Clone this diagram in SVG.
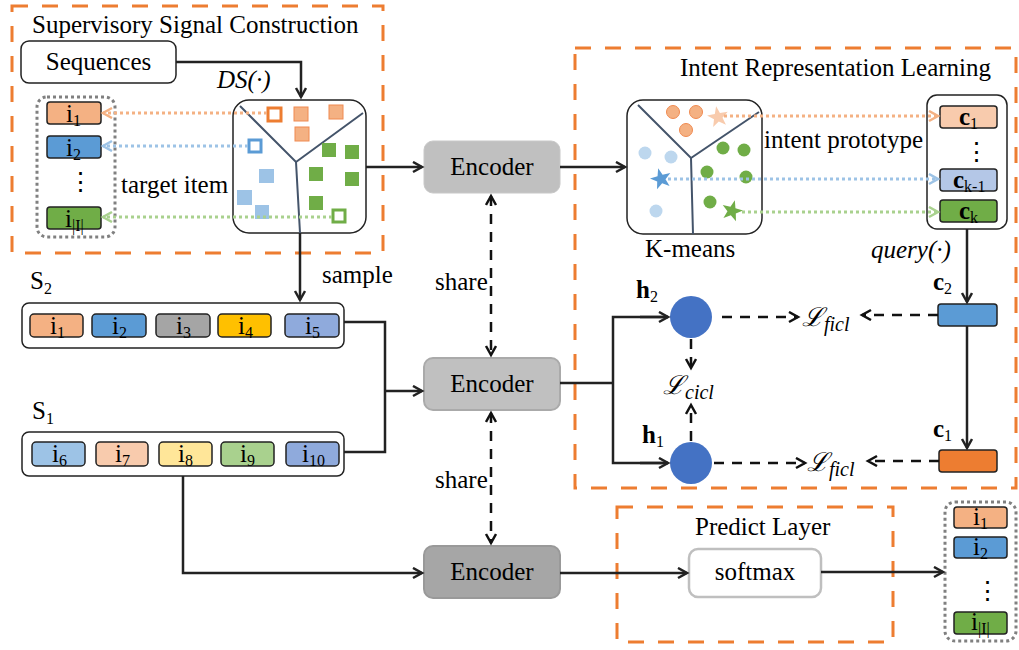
<svg xmlns="http://www.w3.org/2000/svg" width="1019" height="650" viewBox="0 0 1019 650" font-family="'Liberation Serif','DejaVu Serif','Noto Serif',serif">
<style>
text{font-family:"Liberation Serif","DejaVu Serif","Noto Serif",serif;font-size:25px;fill:#000}
.it{font-style:italic}
.b{font-weight:bold}
.sub{font-size:16px;font-weight:normal}
.dash{fill:none;stroke:#ED7D31;stroke-width:3;stroke-dasharray:16 14}
.dot{fill:none;stroke:#808080;stroke-width:3;stroke-dasharray:3 3}
.item{stroke:#222;stroke-width:1.5}
.ln{fill:none;stroke:#222;stroke-width:2.5}
.dl{fill:none;stroke:#111;stroke-width:2.5;stroke-dasharray:10 8}
.cl{fill:none;stroke:#44546A;stroke-width:2}
.L{font-family:"DejaVu Serif","Liberation Serif",serif;font-style:italic;font-size:26px}
.Ls{font-family:"Liberation Serif","DejaVu Serif",serif;font-style:italic;font-size:20px}
</style>
<defs>
<marker id="ah" markerUnits="userSpaceOnUse" markerWidth="14" markerHeight="14" refX="10" refY="6" orient="auto"><path d="M1,1 L10,6 L1,11" fill="none" stroke="#222" stroke-width="2.5"/></marker>
<marker id="ahs" markerUnits="userSpaceOnUse" markerWidth="14" markerHeight="14" refX="10" refY="6" orient="auto-start-reverse"><path d="M1,1 L10,6 L1,11" fill="none" stroke="#111" stroke-width="2.5"/></marker>
<marker id="aho" markerUnits="userSpaceOnUse" markerWidth="14" markerHeight="14" refX="10" refY="6" orient="auto"><path d="M1,1 L10,6 L1,11" fill="none" stroke="#F4B183" stroke-width="2.5"/></marker>
<marker id="ahb" markerUnits="userSpaceOnUse" markerWidth="14" markerHeight="14" refX="10" refY="6" orient="auto"><path d="M1,1 L10,6 L1,11" fill="none" stroke="#9DC3E6" stroke-width="2.5"/></marker>
<marker id="ahg" markerUnits="userSpaceOnUse" markerWidth="14" markerHeight="14" refX="10" refY="6" orient="auto"><path d="M1,1 L10,6 L1,11" fill="none" stroke="#A9D18E" stroke-width="2.5"/></marker>
<path id="star" d="M0,-11 L2.6,-3.6 L10.5,-3.4 L4.3,1.4 L6.5,8.9 L0,4.5 L-6.5,8.9 L-4.3,1.4 L-10.5,-3.4 L-2.6,-3.6 Z"/>
</defs>

<!-- Group frames -->
<g id="supervisory">
<rect x="12" y="6" width="371" height="247" class="dash"/>
<text x="32" y="33">Supervisory Signal Construction</text>
</g>
<g id="intent-box">
<rect x="575" y="48" width="441" height="440" class="dash"/>
<text x="680" y="76">Intent Representation Learning</text>
</g>
<g id="predict-box">
<rect x="617" y="507" width="276" height="135" class="dash"/>
<text x="695" y="535">Predict Layer</text>
</g>

<!-- Sequences -->
<g id="sequences">
<rect x="21" y="41" width="155" height="42" rx="8" fill="#fff" stroke="#222" stroke-width="1.5"/>
<text x="98.5" y="70" text-anchor="middle">Sequences</text>
</g>

<!-- target items -->
<g id="target-items">
<rect x="37" y="97" width="78" height="140" rx="10" class="dot"/>
<rect x="47" y="102" width="54" height="22" rx="3" fill="#F4B183" class="item"/>
<text x="66" y="122">i<tspan class="sub" dy="4">1</tspan></text>
<rect x="47" y="136" width="54" height="22" rx="3" fill="#5B9BD5" class="item"/>
<text x="66" y="156">i<tspan class="sub" dy="4">2</tspan></text>
<text x="68" y="190">⋮</text>
<rect x="47" y="207" width="54" height="22" rx="3" fill="#70AD47" class="item"/>
<text x="65" y="227">i<tspan class="sub" dy="4">|I|</tspan></text>
<text x="121" y="193">target item</text>
</g>

<!-- DS cluster -->
<g id="ds-cluster">
<rect x="233" y="100" width="133" height="133" rx="16" fill="#fff" stroke="#222" stroke-width="1.5"/>
<path d="M240,106 L296,162 L363,113 M296,162 L300,233" class="cl"/>
<rect x="268" y="108" width="13" height="13" fill="#fff" stroke="#ED7D31" stroke-width="3"/>
<rect x="294" y="107" width="14" height="14" fill="#F4B183" stroke="#F08A50" stroke-width="1"/>
<rect x="329" y="105" width="14" height="14" fill="#F4B183" stroke="#F08A50" stroke-width="1"/>
<rect x="295" y="127" width="14" height="14" fill="#F4B183" stroke="#F08A50" stroke-width="1"/>
<rect x="249" y="140" width="12" height="12" fill="#fff" stroke="#5B9BD5" stroke-width="3"/>
<rect x="259" y="169" width="15" height="14" fill="#9DC3E6"/>
<rect x="237" y="190" width="15" height="15" fill="#9DC3E6"/>
<rect x="255" y="205" width="14" height="14" fill="#9DC3E6"/>
<rect x="322" y="143" width="14" height="14" fill="#70AD47"/>
<rect x="345" y="145" width="14" height="14" fill="#70AD47"/>
<rect x="309" y="167" width="14" height="14" fill="#70AD47"/>
<rect x="345" y="172" width="14" height="14" fill="#70AD47"/>
<rect x="309" y="196" width="14" height="14" fill="#70AD47"/>
<rect x="333" y="210" width="12" height="12" fill="#fff" stroke="#70AD47" stroke-width="3"/>
</g>
<text x="217" y="88" class="it">DS(·)</text>
<text x="322" y="283">sample</text>

<!-- S2 -->
<g id="s2">
<text x="30" y="289">S<tspan class="sub" dy="5">2</tspan></text>
<rect x="22" y="303" width="322" height="45" rx="7" fill="#fff" stroke="#222" stroke-width="1.5"/>
<rect x="30" y="314" width="53" height="23" rx="4" fill="#F4B183" class="item"/>
<text x="50" y="334">i<tspan class="sub" dy="4">1</tspan></text>
<rect x="92" y="314" width="54" height="23" rx="4" fill="#5B9BD5" class="item"/>
<text x="112" y="334">i<tspan class="sub" dy="4">2</tspan></text>
<rect x="156" y="314" width="54" height="23" rx="4" fill="#A5A5A5" class="item"/>
<text x="176" y="334">i<tspan class="sub" dy="4">3</tspan></text>
<rect x="218" y="314" width="53" height="23" rx="4" fill="#FFC000" class="item"/>
<text x="238" y="334">i<tspan class="sub" dy="4">4</tspan></text>
<rect x="285" y="314" width="54" height="23" rx="4" fill="#8FAADC" class="item"/>
<text x="305" y="334">i<tspan class="sub" dy="4">5</tspan></text>
</g>

<!-- S1 -->
<g id="s1">
<text x="32" y="419">S<tspan class="sub" dy="5">1</tspan></text>
<rect x="22" y="432" width="322" height="44" rx="7" fill="#fff" stroke="#222" stroke-width="1.5"/>
<rect x="32" y="442" width="53" height="24" rx="4" fill="#9DC3E6" class="item"/>
<text x="52" y="462">i<tspan class="sub" dy="4">6</tspan></text>
<rect x="96" y="442" width="52" height="24" rx="4" fill="#F8CBAD" class="item"/>
<text x="115" y="462">i<tspan class="sub" dy="4">7</tspan></text>
<rect x="159" y="442" width="53" height="24" rx="4" fill="#FFE699" class="item"/>
<text x="178" y="462">i<tspan class="sub" dy="4">8</tspan></text>
<rect x="221" y="442" width="53" height="24" rx="4" fill="#A9D18E" class="item"/>
<text x="240" y="462">i<tspan class="sub" dy="4">9</tspan></text>
<rect x="286" y="442" width="53" height="24" rx="4" fill="#8FAADC" class="item"/>
<text x="302" y="462">i<tspan class="sub" dy="4">10</tspan></text>
</g>

<!-- Encoders -->
<g id="encoder1">
<rect x="424" y="141" width="136" height="52" rx="9" fill="#C0C0C0" stroke="#C8C8C8" stroke-width="1"/>
<text x="492" y="175" text-anchor="middle">Encoder</text>
</g>
<g id="encoder2">
<rect x="424" y="358" width="136" height="52" rx="9" fill="#C0C0C0" stroke="#AAAAAA" stroke-width="2"/>
<text x="492" y="392" text-anchor="middle">Encoder</text>
</g>
<g id="encoder3">
<rect x="424" y="546" width="136" height="52" rx="9" fill="#A6A6A6" stroke="#999999" stroke-width="2"/>
<text x="492" y="580" text-anchor="middle">Encoder</text>
</g>
<text x="435" y="290">share</text>
<text x="435" y="488">share</text>

<!-- K-means -->
<g id="kmeans">
<rect x="627" y="100" width="135" height="134" rx="16" fill="#fff" stroke="#222" stroke-width="1.5"/>
<path d="M638,105 L691,158 L759,112 M691,158 L693,234" class="cl"/>
<g fill="#F4B183" stroke="#F08A50" stroke-width="1">
<circle cx="673" cy="112" r="6.5"/><circle cx="696" cy="112" r="6.5"/><circle cx="686" cy="130" r="6.5"/>
</g>
<use href="#star" transform="translate(718,117) rotate(-10)" fill="#F8CBAD"/>
<g fill="#BDD7EE">
<circle cx="645" cy="153" r="6.5"/><circle cx="671" cy="157" r="6.5"/><circle cx="656" cy="211" r="6.5"/>
</g>
<use href="#star" transform="translate(661,179) rotate(-15)" fill="#5B9BD5"/>
<g fill="#70AD47">
<circle cx="723" cy="148" r="6.5"/><circle cx="744" cy="150" r="6.5"/><circle cx="707" cy="172" r="6.5"/><circle cx="746" cy="177" r="6.5"/><circle cx="710" cy="202" r="6.5"/>
</g>
<use href="#star" transform="translate(732,211) rotate(15)" fill="#70AD47"/>
<text x="645" y="257">K-means</text>
</g>
<text x="764" y="148">intent prototype</text>

<!-- prototypes -->
<g id="prototypes">
<rect x="927" y="95" width="80" height="134" rx="10" fill="#fff" stroke="#222" stroke-width="1.5"/>
<rect x="940" y="106" width="57" height="22" rx="3" fill="#F8CBAD" class="item"/>
<text x="959" y="125" class="b">c<tspan class="sub" dy="4">1</tspan></text>
<text x="964" y="160">⋮</text>
<rect x="940" y="169" width="57" height="22" rx="3" fill="#B4C7E7" class="item"/>
<text x="953" y="188" class="b">c<tspan class="sub" dy="4">k-1</tspan></text>
<rect x="940" y="200" width="57" height="22" rx="3" fill="#70AD47" class="item"/>
<text x="959" y="219" class="b">c<tspan class="sub" dy="4">k</tspan></text>
</g>
<text x="871" y="258" class="it">query(·)</text>

<!-- h nodes -->
<g id="h2">
<circle cx="691" cy="317" r="21" fill="#4472C4"/>
<text x="636" y="298" class="b">h<tspan class="sub" dy="4">2</tspan></text>
</g>
<g id="h1">
<circle cx="691" cy="463" r="21" fill="#4472C4"/>
<text x="642" y="443" class="b">h<tspan class="sub" dy="4">1</tspan></text>
</g>
<g id="c2">
<rect x="938" y="304" width="59" height="22" rx="3" fill="#5B9BD5" class="item"/>
<text x="933" y="290" class="b">c<tspan class="sub" dy="4">2</tspan></text>
</g>
<g id="c1">
<rect x="939" y="450" width="58" height="22" rx="3" fill="#ED7D31" class="item"/>
<text x="933" y="437" class="b">c<tspan class="sub" dy="4">1</tspan></text>
</g>

<!-- losses -->
<g id="loss-ficl-top"><text x="802" y="326" class="L">ℒ<tspan class="Ls" dy="5">ficl</tspan></text></g>
<g id="loss-cicl"><text x="663" y="394" class="L">ℒ<tspan class="Ls" dy="5">cicl</tspan></text></g>
<g id="loss-ficl-bot"><text x="807" y="471" class="L">ℒ<tspan class="Ls" dy="5">ficl</tspan></text></g>

<!-- softmax -->
<g id="softmax">
<rect x="689" y="549" width="132" height="48" rx="9" fill="#fff" stroke="#BFBFBF" stroke-width="2.5"/>
<text x="755" y="580" text-anchor="middle">softmax</text>
</g>

<!-- output items -->
<g id="output-items">
<rect x="945" y="502" width="71" height="139" rx="10" class="dot"/>
<rect x="954" y="507" width="53" height="21" rx="3" fill="#F4B183" class="item"/>
<text x="973" y="525">i<tspan class="sub" dy="4">1</tspan></text>
<rect x="954" y="537" width="53" height="21" rx="3" fill="#5B9BD5" class="item"/>
<text x="973" y="555">i<tspan class="sub" dy="4">2</tspan></text>
<text x="975" y="599">⋮</text>
<rect x="954" y="612" width="53" height="22" rx="3" fill="#70AD47" class="item"/>
<text x="971" y="630">i<tspan class="sub" dy="4">|I|</tspan></text>
</g>

<!-- connectors -->
<g id="connectors">
<path d="M176,62 H301 V97" class="ln" marker-end="url(#ah)"/>
<path d="M300,233 V300" class="ln" marker-end="url(#ah)"/>
<path d="M366,167 H422" class="ln" marker-end="url(#ah)"/>
<path d="M560,167 H625" class="ln" marker-end="url(#ah)"/>
<path d="M344,322 H385 V452 H344" class="ln"/>
<path d="M385,391 H422" class="ln" marker-end="url(#ah)"/>
<path d="M183,476 V573 H422" class="ln" marker-end="url(#ah)"/>
<path d="M560,573 H687" class="ln" marker-end="url(#ah)"/>
<path d="M821,572 H943" class="ln" marker-end="url(#ah)"/>
<path d="M560,383 H613 V463 H668 M613,383 V317 H668" class="ln"/>
<path d="M640,317 H668" class="ln" marker-end="url(#ah)"/>
<path d="M640,463 H668" class="ln" marker-end="url(#ah)"/>
<path d="M967,229 V302" class="ln" marker-end="url(#ah)"/>
<path d="M967,326 V448" class="ln" marker-end="url(#ah)"/>
<path d="M491,196 V355" class="dl" marker-start="url(#ahs)" marker-end="url(#ahs)"/>
<path d="M491,413 V543" class="dl" marker-start="url(#ahs)" marker-end="url(#ahs)"/>
<path d="M722,317 H798" class="dl" marker-end="url(#ahs)"/>
<path d="M938,315 H862" class="dl" marker-end="url(#ahs)"/>
<path d="M714,463 H805" class="dl" marker-end="url(#ahs)"/>
<path d="M939,461 H868" class="dl" marker-end="url(#ahs)"/>
<path d="M691,339 V368" class="dl" marker-end="url(#ahs)"/>
<path d="M691,441 V405" class="dl" marker-end="url(#ahs)"/>
<path d="M267,113 H103" fill="none" stroke="#F4B183" stroke-width="3" stroke-dasharray="3 3" marker-end="url(#aho)"/>
<path d="M248,146 H103" fill="none" stroke="#9DC3E6" stroke-width="3" stroke-dasharray="3 3" marker-end="url(#ahb)"/>
<path d="M332,217 H103" fill="none" stroke="#A9D18E" stroke-width="3" stroke-dasharray="3 3" marker-end="url(#ahg)"/>
<path d="M724,116 H938" fill="none" stroke="#F4B183" stroke-width="3" stroke-dasharray="3 3" marker-end="url(#aho)"/>
<path d="M668,179 H938" fill="none" stroke="#9DC3E6" stroke-width="3" stroke-dasharray="3 3" marker-end="url(#ahb)"/>
<path d="M742,212 H938" fill="none" stroke="#A9D18E" stroke-width="3" stroke-dasharray="3 3" marker-end="url(#ahg)"/>
</g>
</svg>
